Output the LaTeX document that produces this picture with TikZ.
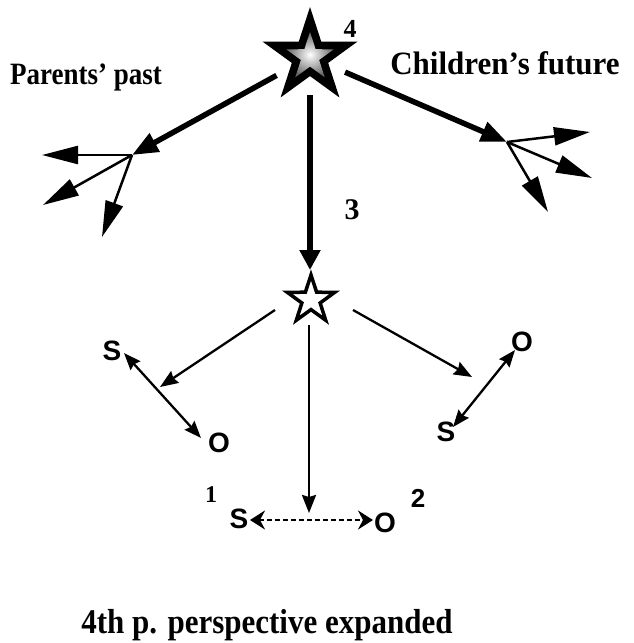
\documentclass[tikz,border=0pt]{standalone}
\usepackage{fontspec}
\setmainfont{Liberation Serif}
\setsansfont{Liberation Sans}
\usetikzlibrary{arrows.meta}
\begin{document}
\begin{tikzpicture}[x=1pt,y=-1pt,
  lbl/.style={inner sep=0pt,font=\bfseries},
  so/.style={inner sep=0pt,font=\sffamily\bfseries\fontsize{28}{28}\selectfont},
  bigarrow/.style={line width=5.5pt,-{Triangle[length=26pt,width=20pt]}},
  fanarrow/.style={line width=2.5pt,-{Triangle[length=36pt,width=18pt]}},
  thinarrow/.style={line width=2.3pt,-{Stealth[length=18pt,width=14pt,inset=2pt]}},
  pairarrow/.style={line width=2.3pt,{Stealth[length=17pt,width=13pt,inset=2pt]}-{Stealth[length=17pt,width=13pt,inset=2pt]}},
  dasharrow/.style={line width=2.2pt,dash pattern=on 5pt off 3pt,{Stealth[length=15pt,width=19pt,inset=5pt]}-{Stealth[length=15pt,width=19pt,inset=5pt]}},
]
\useasboundingbox (0,0) rectangle (633,643);

% top star
\begin{scope}[shift={(310,57)}]
\fill[black] (270:50) -- (306:19.1) -- (342:50) -- (18:19.1) -- (54:50) -- (90:19.1) -- (126:50) -- (162:19.1) -- (198:50) -- (234:19.1) -- cycle;
\shade[inner color=white, outer color=black!60] (270:25) -- (306:9.6) -- (342:25) -- (18:9.6) -- (54:25) -- (90:9.6) -- (126:25) -- (162:9.6) -- (198:25) -- (234:9.6) -- cycle;
\end{scope}
\node[circle, minimum size=76pt, inner sep=0pt] (T) at (310,57) {};

% middle star
\begin{scope}[shift={(311,300)}]
\draw[line width=3.5pt, fill=white, miter limit=10] (270:25) -- (306:9.6) -- (342:25) -- (18:9.6) -- (54:25) -- (90:9.6) -- (126:25) -- (162:9.6) -- (198:25) -- (234:9.6) -- cycle;
\end{scope}
\coordinate (Mtop) at (310,270);
\coordinate (Ml) at (275,310);
\coordinate (Mr) at (353,310);
\coordinate (Md) at (309,325);

% labels
\node[lbl, font=\bfseries\fontsize{27}{27}\selectfont, anchor=base] (pp) at (86,84) {\scalebox{1}[1.15]{Parents’ past}};
\node[lbl, font=\bfseries\fontsize{31}{31}\selectfont, anchor=base] (cf) at (505,74) {\scalebox{1}[1.05]{Children’s future}};
\node[lbl, font=\bfseries\fontsize{26}{26}\selectfont, anchor=base] (n4) at (350,37) {4};
\node[lbl, font=\bfseries\fontsize{30}{30}\selectfont, anchor=base] (n3) at (352,219) {3};
\node[lbl, font=\bfseries\fontsize{24}{24}\selectfont, anchor=base] (n1) at (211,502) {1};
\node[inner sep=0pt, font=\sffamily\bfseries\fontsize{26}{26}\selectfont, anchor=base] (n2) at (418,507) {2};
\node[lbl, font=\bfseries\fontsize{31}{31}\selectfont, anchor=base] (cap) at (267,633) {\scalebox{1}[1.12]{4th p. perspective expanded}};

% fan origins
\coordinate (L) at (132,155);
\coordinate (R) at (507,142);
\coordinate (L1) at (42,155);
\coordinate (L2) at (43,205);
\coordinate (L3) at (102,237);
\coordinate (R1) at (590,132);
\coordinate (R2) at (592,178);
\coordinate (R3) at (548,212);

% thick arrows
\draw[bigarrow] (T) -- (L);
\draw[bigarrow] (T) -- (R);
\draw[bigarrow,-{Triangle[length=20pt,width=20pt]}] (T.south) -- (Mtop);

% fans
\draw[fanarrow] (L) -- (L1);
\draw[fanarrow] (L) -- (L2);
\draw[fanarrow] (L) -- (L3);
\draw[fanarrow] (R) -- (R1);
\draw[fanarrow] (R) -- (R2);
\draw[fanarrow] (R) -- (R3);

% S/O nodes
\node[so] (S1) at (112,351) {S};
\node[so] (O1) at (219,443) {O};
\node[so] (O2) at (522,342) {O};
\node[so] (S2) at (446,432) {S};
\node[so] (S3) at (239,519) {S};
\node[so] (O3) at (385,523) {O};

\coordinate (s1e) at (124,353);
\coordinate (o1e) at (201,438);
\coordinate (o2e) at (515,350);
\coordinate (s2e) at (453,427);
\coordinate (s3e) at (250,520);
\coordinate (o3e) at (373,520);

\coordinate (al) at (160,387);
\coordinate (ar) at (472,377);
\coordinate (ad) at (309,513);

\draw[thinarrow] (Ml) -- (al);
\draw[thinarrow] (Mr) -- (ar);
\draw[thinarrow] (Md) -- (ad);

\draw[pairarrow] (s1e) -- (o1e);
\draw[pairarrow] (o2e) -- (s2e);
\draw[dasharrow] (s3e) -- (o3e);
\end{tikzpicture}
\end{document}
